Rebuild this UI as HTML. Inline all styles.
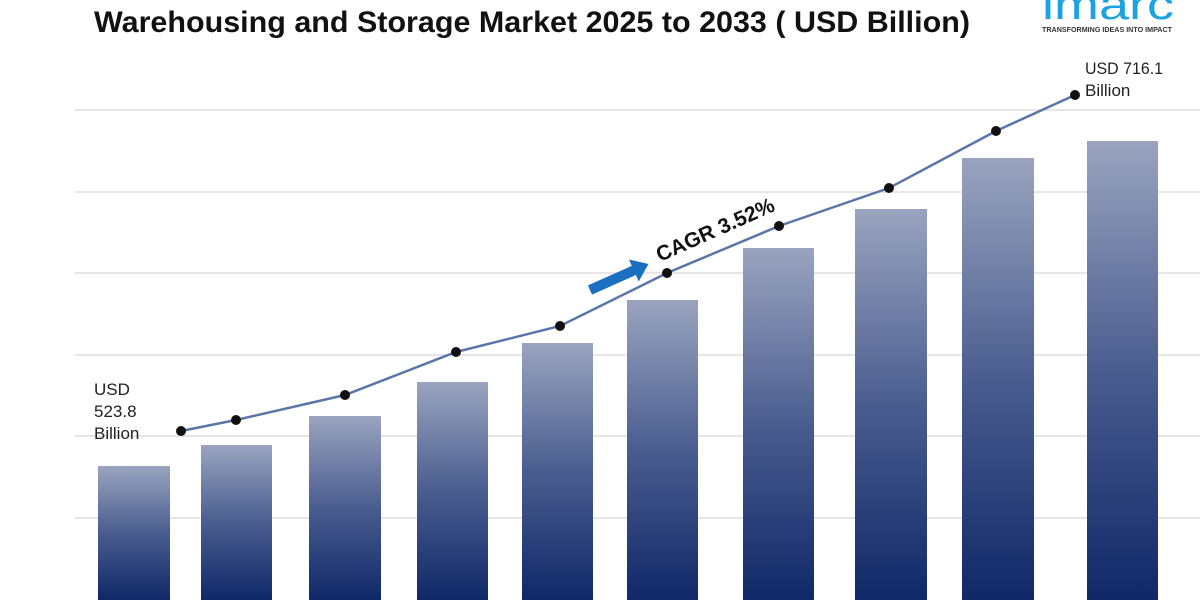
<!DOCTYPE html>
<html><head><meta charset="utf-8"><style>
html,body{margin:0;padding:0;background:#fff;width:1200px;height:600px;overflow:hidden}
</style></head><body>
<svg width="1200" height="600" viewBox="0 0 1200 600" xmlns="http://www.w3.org/2000/svg">
<defs>
<linearGradient id="g" x1="0" y1="0" x2="0" y2="1">
<stop offset="0" stop-color="#9aa4bf"/>
<stop offset="0.5" stop-color="#4a5d8f"/>
<stop offset="1" stop-color="#102868"/>
</linearGradient>
</defs>
<text x="94" y="32" font-family="Liberation Sans, sans-serif" font-weight="bold" font-size="30" fill="#111" textLength="876" lengthAdjust="spacingAndGlyphs">Warehousing and Storage Market 2025 to 2033 ( USD Billion)</text>
<text x="1042" y="19" font-family="Liberation Sans, sans-serif" font-size="42" fill="#1aa3e0" textLength="132" lengthAdjust="spacingAndGlyphs">imarc</text>
<text x="1042" y="32" font-family="Liberation Sans, sans-serif" font-weight="bold" font-size="7" fill="#333" textLength="130" lengthAdjust="spacingAndGlyphs">TRANSFORMING IDEAS INTO IMPACT</text>
<g stroke="#d6d6d6" stroke-width="1.2">
<line x1="75" y1="110" x2="1200" y2="110"/><line x1="75" y1="192" x2="1200" y2="192"/>
<line x1="75" y1="273" x2="1200" y2="273"/><line x1="75" y1="355" x2="1200" y2="355"/>
<line x1="75" y1="436" x2="1200" y2="436"/><line x1="75" y1="518" x2="1200" y2="518"/>
</g>
<g fill="url(#g)">
<rect x="98" y="466" width="72" height="134"/>
<rect x="201" y="445" width="71" height="155"/>
<rect x="309" y="416" width="72" height="184"/>
<rect x="417" y="382" width="71" height="218"/>
<rect x="522" y="343" width="71" height="257"/>
<rect x="627" y="300" width="71" height="300"/>
<rect x="743" y="248" width="71" height="352"/>
<rect x="855" y="209" width="72" height="391"/>
<rect x="962" y="158" width="72" height="442"/>
<rect x="1087" y="141" width="71" height="459"/>
</g>
<polyline fill="none" stroke="#5a75a8" stroke-width="2.5" points="181,431 236,420 345,395 456,352 560,326 667,273 779,226 889,188 996,131 1075,95"/>
<g fill="#111">
<circle cx="181" cy="431" r="5"/><circle cx="236" cy="420" r="5"/><circle cx="345" cy="395" r="5"/>
<circle cx="456" cy="352" r="5"/><circle cx="560" cy="326" r="5"/><circle cx="667" cy="273" r="5"/>
<circle cx="779" cy="226" r="5"/><circle cx="889" cy="188" r="5"/><circle cx="996" cy="131" r="5"/>
<circle cx="1075" cy="95" r="5"/>
</g>
<g transform="translate(590,290) rotate(-24)">
<polygon points="0,-5 48,-5 48,-12 64,0 48,12 48,5 0,5" fill="#1b6fc0"/>
</g>
<text x="660" y="262" font-family="Liberation Sans, sans-serif" font-weight="bold" font-size="21" fill="#111" transform="rotate(-24 660 262)">CAGR 3.52%</text>
<g font-family="Liberation Sans, sans-serif" font-size="17" fill="#222">
<text x="94" y="395">USD</text><text x="94" y="417">523.8</text><text x="94" y="439">Billion</text>
<text x="1085" y="74" textLength="78" lengthAdjust="spacingAndGlyphs">USD 716.1</text><text x="1085" y="96">Billion</text>
</g>
</svg>
</body></html>
